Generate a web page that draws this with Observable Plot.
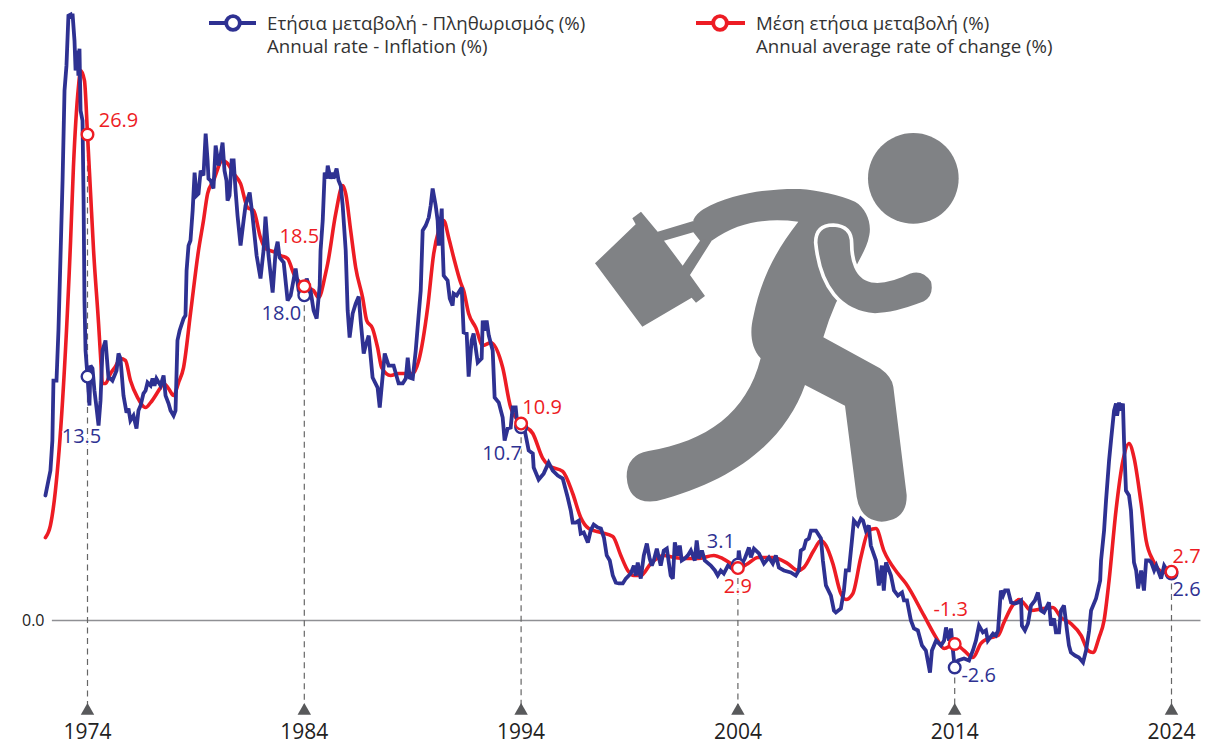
<!DOCTYPE html>
<html><head><meta charset="utf-8">
<script src="https://cdn.jsdelivr.net/npm/d3@7"></script>
<script src="https://cdn.jsdelivr.net/npm/@observablehq/plot@0.6"></script>
<style>
html,body{margin:0;padding:0;background:#fff}
#wrap{position:relative;width:1223px;height:750px;overflow:hidden;font-family:"Open Sans",sans-serif}
#chart{position:absolute;left:0;top:0}
.over{position:absolute;left:0;top:0;pointer-events:none}
.leg{position:absolute;font-size:18.7px;line-height:23px;color:#333;white-space:nowrap}
</style></head><body>
<div id="wrap"><div id="chart"></div>
<svg class="over" width="1223" height="750">
  <g fill="#808285" transform="translate(590,120) scale(0.33333)">
    <circle cx="970" cy="175" r="136"/>
    <path fill-rule="evenodd" d="M15,430L137,313L127,295L153,275L203,335L310,303L365,362L300,465L345,528L318,548L305,533L157,620Z M222,362L310,337L330,362L278,437Z"/>
    <path d="M310,300Q320,280 340,268C430,215 560,205 630,207C680,210 750,225 795,245C830,265 845,310 838,345C832,380 815,405 803,430L738,548Q715,600 700,652L870,745Q905,770 910,800L950,1125Q952,1200 875,1205Q810,1200 800,1130L765,857L645,795C590,950 450,1080 200,1143Q115,1155 110,1070Q110,1005 175,993C350,965 470,880 512,715C480,680 480,630 490,590C510,490 550,400 625,305C540,295 450,300 365,362L330,358Q310,335 310,300Z"/>
    <path stroke="#fff" stroke-width="11" d="M677,368Q677,315 730,315Q785,318 785,370C785,410 795,480 855,483C890,485 930,470 960,455Q1000,442 1028,482Q1040,530 1002,550C950,570 900,585 855,585C750,578 690,500 677,368Z"/>
  </g>
  <g stroke-width="3.8" fill="#fff">
    <line x1="209" x2="256" y1="23" y2="23" stroke="#2e3192"/><circle cx="233" cy="23" r="6.8" stroke="#2e3192"/>
    <line x1="696" x2="745" y1="23" y2="23" stroke="#ed1c24"/><circle cx="720" cy="23" r="6.8" stroke="#ed1c24"/>
  </g>
</svg>
<div class="leg" style="left:267px;top:11px">Ετήσια μεταβολή - Πληθωρισμός (%)<br>Annual rate - Inflation (%)</div>
<div class="leg" style="left:756px;top:11px">Μέση ετήσια μεταβολή (%)<br>Annual average rate of change (%)</div>
</div>
<script>
const annualYears = [1972.06,1972.29,1972.38,1972.43,1972.57,1972.66,1972.75,1972.85,1972.94,1973.03,1973.12,1973.22,1973.26,1973.31,1973.40,1973.45,1973.54,1973.58,1973.63,1973.68,1973.77,1973.82,1973.86,1973.91,1974.00,1974.09,1974.14,1974.23,1974.32,1974.42,1974.51,1974.60,1974.69,1974.83,1974.97,1975.06,1975.15,1975.34,1975.43,1975.52,1975.66,1975.80,1975.89,1975.98,1976.12,1976.26,1976.35,1976.45,1976.58,1976.68,1976.77,1976.91,1977.00,1977.09,1977.18,1977.37,1977.51,1977.60,1977.74,1977.83,1977.97,1978.06,1978.15,1978.25,1978.43,1978.52,1978.57,1978.66,1978.75,1978.85,1978.94,1979.03,1979.12,1979.22,1979.35,1979.45,1979.54,1979.58,1979.68,1979.81,1979.91,1980.05,1980.14,1980.23,1980.32,1980.41,1980.46,1980.55,1980.65,1980.74,1980.83,1980.92,1981.06,1981.20,1981.29,1981.48,1981.61,1981.80,1981.98,1982.12,1982.21,1982.35,1982.54,1982.68,1982.77,1982.86,1983.05,1983.23,1983.37,1983.60,1983.74,1983.88,1984.00,1984.11,1984.29,1984.43,1984.57,1984.71,1984.75,1984.85,1984.94,1985.03,1985.08,1985.21,1985.31,1985.35,1985.49,1985.58,1985.68,1985.77,1985.91,1986.00,1986.09,1986.23,1986.37,1986.51,1986.60,1986.74,1986.83,1986.97,1987.15,1987.38,1987.48,1987.71,1987.89,1988.12,1988.35,1988.54,1988.68,1988.77,1988.86,1989.00,1989.14,1989.28,1989.37,1989.46,1989.60,1989.74,1989.83,1989.92,1990.06,1990.15,1990.20,1990.34,1990.38,1990.43,1990.61,1990.71,1990.84,1990.89,1991.03,1991.26,1991.35,1991.49,1991.58,1991.72,1991.81,1992.00,1992.18,1992.23,1992.32,1992.41,1992.51,1992.69,1992.78,1992.97,1993.15,1993.24,1993.38,1993.52,1993.61,1993.75,1993.84,1994.00,1994.17,1994.35,1994.54,1994.58,1994.81,1995.04,1995.27,1995.46,1995.69,1995.92,1996.15,1996.29,1996.38,1996.52,1996.66,1996.75,1996.89,1997.08,1997.21,1997.35,1997.54,1997.68,1997.82,1997.95,1998.09,1998.23,1998.37,1998.51,1998.69,1998.83,1999.06,1999.20,1999.29,1999.38,1999.52,1999.66,1999.80,1999.93,2000.03,2000.12,2000.26,2000.44,2000.58,2000.72,2000.90,2001.00,2001.09,2001.23,2001.32,2001.41,2001.55,2001.69,2001.83,2002.01,2002.10,2002.20,2002.34,2002.47,2002.75,2002.94,2003.07,2003.21,2003.35,2003.54,2003.72,2004.00,2004.04,2004.14,2004.32,2004.51,2004.60,2004.74,2004.97,2005.20,2005.43,2005.61,2005.75,2005.89,2006.12,2006.44,2006.67,2006.81,2006.90,2007.04,2007.14,2007.27,2007.37,2007.60,2007.83,2007.92,2008.06,2008.29,2008.43,2008.52,2008.75,2008.89,2008.98,2009.12,2009.26,2009.35,2009.53,2009.67,2009.77,2009.90,2010.04,2010.13,2010.37,2010.50,2010.64,2010.73,2010.83,2011.06,2011.20,2011.38,2011.57,2011.66,2011.80,2011.98,2012.12,2012.30,2012.49,2012.67,2012.86,2012.95,2013.14,2013.37,2013.51,2013.60,2013.74,2013.83,2013.92,2014.00,2014.15,2014.43,2014.66,2014.84,2014.98,2015.12,2015.30,2015.44,2015.53,2015.77,2015.90,2016.00,2016.13,2016.23,2016.32,2016.46,2016.60,2016.78,2016.92,2017.06,2017.10,2017.24,2017.38,2017.52,2017.70,2017.84,2017.98,2018.12,2018.35,2018.44,2018.58,2018.67,2018.81,2018.90,2019.04,2019.18,2019.27,2019.36,2019.55,2019.73,2019.92,2020.06,2020.20,2020.29,2020.52,2020.71,2020.75,2020.89,2020.98,2021.12,2021.21,2021.35,2021.44,2021.49,2021.58,2021.67,2021.76,2021.81,2021.90,2022.04,2022.13,2022.27,2022.37,2022.46,2022.60,2022.73,2022.83,2022.97,2023.07,2023.20,2023.30,2023.52,2023.66,2023.80,2024.00];
const annualRate = [6.92,8.30,9.96,13.28,13.28,16.05,19.92,24.35,29.33,30.71,33.48,33.54,33.31,33.59,32.10,30.44,31.54,30.16,31.65,28.22,27.67,23.24,17.71,14.94,13.50,11.90,14.11,13.95,12.73,11.73,10.79,12.17,14.94,15.50,13.39,13.39,13.28,13.84,14.78,14.50,12.45,11.51,11.73,11.07,11.34,10.63,11.62,11.90,12.56,12.73,13.17,13.00,13.39,13.00,13.39,13.00,13.56,12.45,12.01,11.62,11.34,11.62,15.50,16.05,16.71,16.88,19.37,20.75,21.03,22.69,24.79,23.52,23.63,24.90,24.63,26.95,25.46,24.46,24.35,23.91,26.29,25.18,25.73,26.45,24.90,24.35,23.24,23.52,25.46,25.46,23.80,22.41,20.75,22.14,22.97,23.69,22.41,20.20,18.93,20.48,22.36,20.20,18.15,20.48,20.97,20.09,19.81,17.71,17.99,19.48,18.26,17.87,18.00,18.93,18.26,17.16,16.71,18.54,20.48,22.14,24.79,24.46,25.18,24.46,24.79,24.46,25.01,24.35,24.07,22.97,20.48,17.16,15.66,16.99,17.54,17.93,16.60,14.78,15.22,15.77,13.45,12.89,11.79,14.78,14.11,14.11,13.12,13.12,13.39,14.55,13.45,13.39,14.94,16.99,18.26,21.58,21.86,22.30,22.97,23.91,22.97,22.14,20.75,22.80,20.75,19.09,18.82,17.82,17.43,18.10,17.99,18.43,15.94,15.88,13.50,15.50,15.88,14.28,14.50,16.60,16.05,16.60,15.77,14.94,12.34,12.06,11.23,9.96,10.63,10.68,11.79,11.79,10.68,10.70,10.51,9.41,9.24,8.47,7.80,8.13,8.74,8.30,8.02,7.86,6.81,6.09,5.42,5.42,5.53,4.81,4.87,4.32,4.98,5.31,5.15,5.09,4.59,3.60,3.32,2.49,2.10,2.05,2.05,2.32,2.60,3.04,2.49,3.21,2.32,3.60,4.26,3.43,3.04,3.32,3.98,3.04,3.87,3.98,2.49,2.32,4.32,3.60,4.15,3.32,3.43,3.60,3.87,3.32,4.43,3.43,3.87,3.32,3.04,2.77,2.49,2.77,2.60,3.04,2.88,3.10,3.87,3.04,3.43,4.04,3.49,3.98,3.71,3.15,3.49,3.15,3.60,2.93,2.77,2.66,2.49,2.77,3.87,3.98,4.43,4.54,4.98,4.98,4.54,3.32,1.94,1.38,0.55,0.44,0.66,1.66,2.77,2.77,4.43,5.53,5.26,5.64,5.53,4.98,5.26,4.15,3.32,1.94,3.04,1.66,3.21,2.49,1.66,1.38,1.55,1.11,1.11,0,-0.44,-0.55,-1.38,-1.66,-2.88,-1.66,-1.11,-1.38,-1.11,-0.39,-1.11,-0.44,-1.66,-2.60,-2.21,-2.10,-2.21,-1.66,-1.11,-0.28,-0.66,-0.55,-1.11,-0.72,-0.83,-0.55,1.66,1.38,1.66,1.66,1.00,0.94,1.00,1.11,-0.28,-0.55,-0.17,0.83,1.11,1.55,0.55,0.44,1.00,-0.28,0.11,-0.66,-0.66,0.55,0.83,-0.55,-1.38,-1.77,-1.94,-2.05,-2.32,-1.66,-0.55,0.55,1.22,2.21,3.32,4.98,6.64,8.85,9.96,11.62,12.01,11.34,12.06,11.62,12.01,9.96,7.19,6.92,6.09,3.21,2.77,1.77,2.77,1.66,3.32,3.32,3.21,2.77,3.04,2.32,3.04,2.77,2.60];

const averageYears = [1972.06,1972.29,1972.52,1972.85,1973.22,1973.35,1973.58,1973.68,1973.86,1974.00,1974.14,1974.28,1974.51,1974.60,1974.69,1974.83,1975.06,1975.29,1975.52,1975.75,1975.98,1976.31,1976.68,1976.91,1977.37,1977.51,1977.74,1977.97,1978.20,1978.43,1978.75,1979.12,1979.35,1979.54,1979.81,1980.23,1980.46,1980.74,1981.06,1981.38,1981.66,1981.98,1982.21,1982.68,1982.91,1983.23,1983.51,1984.00,1984.43,1984.66,1984.98,1985.08,1985.45,1985.77,1985.91,1986.14,1986.37,1986.69,1986.88,1987.15,1987.38,1987.57,1987.98,1988.35,1989.00,1989.28,1989.69,1989.97,1990.20,1990.43,1990.66,1990.89,1991.21,1991.35,1991.58,1991.91,1992.23,1992.60,1993.15,1993.52,1994.00,1994.54,1995.00,1995.27,1995.92,1996.38,1996.75,1997.12,1997.68,1998.23,1998.60,1998.92,1999.20,1999.52,1999.98,2000.58,2001.04,2001.60,2002.15,2002.89,2003.30,2003.67,2004.00,2004.46,2004.92,2005.61,2006.30,2006.76,2007.04,2007.50,2007.83,2008.06,2008.38,2008.75,2008.98,2009.30,2009.67,2010.04,2010.37,2010.73,2011.38,2011.75,2012.58,2013.14,2013.51,2014.00,2014.43,2014.84,2015.21,2015.53,2016.00,2016.27,2016.73,2016.97,2017.20,2017.52,2018.07,2018.53,2018.90,2019.36,2019.83,2020.15,2020.38,2020.66,2020.89,2021.12,2021.44,2021.76,2022.04,2022.27,2022.60,2022.83,2023.15,2023.66,2024.00];
const averageRate = [4.59,5.26,7.19,12.17,21.03,25.07,29.50,30.44,29.88,26.90,23.69,20.48,16.44,14.66,13.12,13.12,13.67,14.06,14.50,14.39,13.28,12.34,11.79,12.06,12.89,13.12,12.84,12.45,13.17,14.00,16.99,20.48,22.14,23.63,24.35,25.46,25.29,24.74,24.18,22.86,22.69,21.19,20.59,20.37,20.20,20.03,19.20,18.50,18.26,17.87,19.20,19.76,22.52,24.07,23.63,21.58,19.54,17.87,16.60,16.16,15.11,14.00,13.56,13.67,13.67,14.39,17.32,20.31,21.58,22.14,21.19,20.09,18.71,18.26,16.99,16.21,15.22,15.38,14.00,11.79,10.90,10.35,8.97,8.58,8.25,7.03,5.70,5.09,4.87,4.65,3.60,2.77,2.49,2.49,3.15,3.60,3.49,3.43,3.43,3.60,3.43,3.15,2.90,3.15,3.49,3.49,3.15,2.77,2.93,3.87,4.43,4.15,3.15,1.49,1.16,1.49,3.49,4.98,5.09,3.87,2.60,2.05,0.28,-0.94,-1.55,-1.30,-1.66,-2.05,-1.27,-1.00,-0.83,-0.11,0.94,1.16,0.94,0.55,0.66,0.72,0.17,-0.17,-0.83,-1.66,-1.77,-0.94,0,2.21,6.09,8.85,9.80,9.02,6.47,4.43,3.32,2.66,2.70];

const markerYears = [1974,1984,1994,2004,2014,2024];
const markerAnnual = [13.5,18.0,10.7,3.1,-2.6,2.6];
const markerAverage = [26.9,18.5,10.9,2.9,-1.3,2.7];
const guideTops = [26.9,18.0,10.7,2.9,-2.6,2.6];
const guideFloor = -4.7;
const triangleLevel = -5.0;

// label nudges in pixels (layout only)
const annualNudge = [[-6,60],[-23,18],[-19,26],[-17,-23],[24,8],[15,16]];
const averageNudge = [[31,-14],[-5,-50],[21,-16],[0,18],[-4,-34],[15,-15]];

const BLUE = "#2e3192", RED = "#ed1c24";
const annual = annualYears.map((x,i)=>({x,y:annualRate[i]}));
const average = averageYears.map((x,i)=>({x,y:averageRate[i]}));
const fmt = v => d3.format(".1f")(v).replace("\u2212","-");
const txt = (vals,nudge,color)=>vals.map((v,i)=>Plot.text([{x:markerYears[i],y:v}],{
  x:"x",y:"y",text:d=>fmt(d.y),dx:nudge[i][0],dy:nudge[i][1],fill:color,
  fontSize:20,stroke:"#fff",strokeWidth:2.5,paintOrder:"stroke"}));

const chart = Plot.plot({
  width:1223,height:750,marginLeft:45,marginBottom:30,marginTop:0,marginRight:0,
  style:{fontFamily:'"Open Sans",sans-serif',background:"transparent"},
  x:{type:"linear",domain:[1974,2024],range:[87,1171]},
  y:{domain:[0,26.9],range:[620,134]},
  marks:[
    Plot.axisX({ticks:markerYears,tickFormat:"d",tickSize:0,tickPadding:4,fontSize:21,fill:"#222",label:null}),
    Plot.axisY({ticks:[0],tickFormat:".1f",tickSize:0,tickPadding:1,fontSize:16,fill:"#222",label:null}),
    Plot.ruleY([0],{x1:1972.38,x2:2025.36,stroke:"#8f9094",strokeWidth:1.6}),
    Plot.ruleX(markerYears.map((x,i)=>({x,t:guideTops[i]})),{x:"x",y1:"t",y2:guideFloor,stroke:"#666",strokeWidth:1.2,strokeDasharray:"6,4.5"}),
    Plot.dot(markerYears,{x:d=>d,y:triangleLevel,symbol:"triangle",r:5,fill:"#58595b"}),
    Plot.line(average,{x:"x",y:"y",stroke:RED,strokeWidth:3.6,curve:"monotone-x"}),
    Plot.line(annual,{x:"x",y:"y",stroke:BLUE,strokeWidth:3.8,strokeLinejoin:"miter",strokeMiterlimit:3}),
    Plot.dot(markerYears,{x:d=>d,y:(d,i)=>markerAnnual[i],r:5.8,fill:"#fff",stroke:BLUE,strokeWidth:2.4}),
    Plot.dot(markerYears,{x:d=>d,y:(d,i)=>markerAverage[i],r:5.8,fill:"#fff",stroke:RED,strokeWidth:2.4}),
    ...txt(markerAnnual,annualNudge,BLUE),
    ...txt(markerAverage,averageNudge,RED)
  ]
});
document.getElementById("chart").appendChild(chart);
</script>
</body></html>
